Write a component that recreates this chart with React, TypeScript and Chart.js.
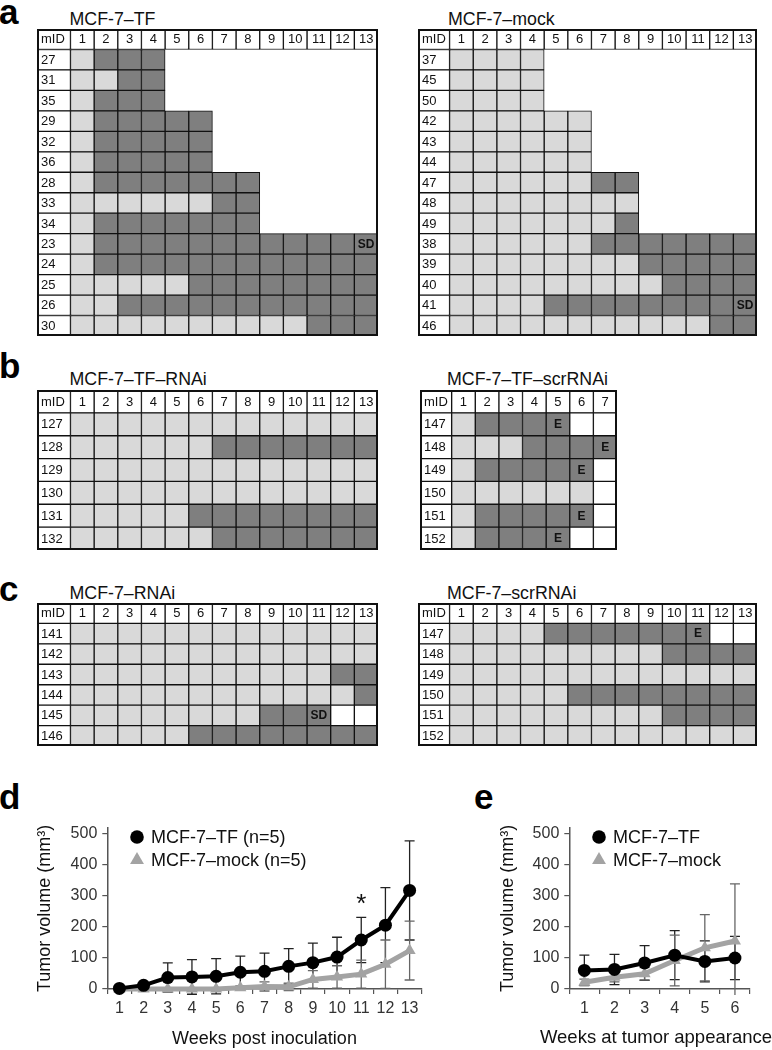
import React, { useEffect, useRef } from 'react';
import { Chart, registerables } from 'chart.js';

Chart.register(...registerables);

const FONT = "'Liberation Sans', Arial, Helvetica, sans-serif";
Chart.defaults.font.family = FONT;
Chart.defaults.color = '#111';

const LIGHT = '#d9d9d9';
const DARK = '#7f7f7f';
const LINE = '#111111';
const GRAY = '#a3a3a3';
const AXIS = '#555555';

// ---------------- data: grids ----------------
const weeks13 = ['1', '2', '3', '4', '5', '6', '7', '8', '9', '10', '11', '12', '13'];
const weeks7 = ['1', '2', '3', '4', '5', '6', '7'];

// L = light (no tumour), D = dark (tumour), W = empty cell, . = no cell
const tfIds = ['27', '31', '35', '29', '32', '36', '28', '33', '34', '23', '24', '25', '26', '30'];
const tfCells = [
  'LDDD.........',
  'LLDD.........',
  'LDDD.........',
  'LDDDDD.......',
  'LDDDDD.......',
  'LDDDDD.......',
  'LDDDDDDD.....',
  'LLLLLLDD.....',
  'LDDDDDDD.....',
  'LDDDDDDDDDDDD',
  'LDDDDDDDDDDDD',
  'LLLLLDDDDDDDD',
  'LLDDDDDDDDDDD',
  'LLLLLLLLLLDDD',
];
const tfMarks = [{ row: '23', col: 13, text: 'SD' }];

const mockIds = ['37', '45', '50', '42', '43', '44', '47', '48', '49', '38', '39', '40', '41', '46'];
const mockCells = [
  'LLLL.........',
  'LLLL.........',
  'LLLL.........',
  'LLLLLL.......',
  'LLLLLL.......',
  'LLLLLL.......',
  'LLLLLLDD.....',
  'LLLLLLLL.....',
  'LLLLLLLD.....',
  'LLLLLLDDDDDDD',
  'LLLLLLLLDDDDD',
  'LLLLLLLLLDDDD',
  'LLLLDDDDDDDDD',
  'LLLLLLLLLLLDD',
];
const mockMarks = [{ row: '41', col: 13, text: 'SD' }];

const tfRnaiIds = ['127', '128', '129', '130', '131', '132'];
const tfRnaiCells = [
  'LLLLLLLLLLLLL',
  'LLLLLLDDDDDDD',
  'LLLLLLLLLLLLL',
  'LLLLLLLLLLLLL',
  'LLLLLDDDDDDDD',
  'LLLLLLDDDDDDD',
];
const tfRnaiMarks: any[] = [];

const tfScrIds = ['147', '148', '149', '150', '151', '152'];
const tfScrCells = ['LDDDDWW', 'LLLDDDD', 'LDDDDDW', 'LLLLLLW', 'LDDDDDW', 'LDDDDWW'];
const tfScrMarks = [
  { row: '147', col: 5, text: 'E' },
  { row: '148', col: 7, text: 'E' },
  { row: '149', col: 6, text: 'E' },
  { row: '151', col: 6, text: 'E' },
  { row: '152', col: 5, text: 'E' },
];

const rnaiIds = ['141', '142', '143', '144', '145', '146'];
const rnaiCells = [
  'LLLLLLLLLLLLL',
  'LLLLLLLLLLLLL',
  'LLLLLLLLLLLDD',
  'LLLLLLLLLLLLD',
  'LLLLLLLLDDDWW',
  'LLLLLDDDDDDDD',
];
const rnaiMarks = [{ row: '145', col: 11, text: 'SD' }];

const scrIds = ['147', '148', '149', '150', '151', '152'];
const scrCells = [
  'LLLLDDDDDDDWW',
  'LLLLLLLLLDDDD',
  'LLLLLLLLLLLLL',
  'LLLLLDDDDDDDD',
  'LLLLLLLLLDDDD',
  'LLLLLLLLLLLLL',
];
const scrMarks = [{ row: '147', col: 11, text: 'E' }];

// ---------------- data: line charts ----------------
const weeksD = ['1', '2', '3', '4', '5', '6', '7', '8', '9', '10', '11', '12', '13'];
const tfVolD = [2, 12, 37, 39, 41, 54, 57, 73, 85, 103, 158, 206, 318];
const tfErrD = [0, 5, 47, 56, 57, 52, 59, 57, 63, 64, 73, 121, 160];
const mockVolD = [0, 0, 0, 0, 0, 4, 8, 7, 31, 39, 48, 80, 124];
const mockErrD = [0, 0, 2, 2, 2, 6, 15, 12, 28, 36, 45, 78, 95];
const legendD = ['MCF-7–TF (n=5)', 'MCF-7–mock (n=5)'];
const starsD = [{ week: '11', value: 270, text: '*' }];

const weeksE = ['1', '2', '3', '4', '5', '6'];
const tfVolE = [60, 63, 84, 109, 89, 100];
const tfErrE = [49, 49, 56, 79, 66, 70];
const mockVolE = [22, 38, 49, 92, 133, 155];
const mockErrE = [10, 15, 20, 82, 107, 184];
const legendE = ['MCF-7–TF', 'MCF-7–mock'];

const yTickValues = [0, 100, 200, 300, 400, 500];

// ---------------- plugins ----------------
const gridTextPlugin = {
  id: 'gridText',
  afterDatasetsDraw(chart: any, _a: any, opts: any) {
    const { ctx, chartArea, scales } = chart;
    const x = scales.x;
    const y = scales.y;
    const labels = chart.data.labels as string[];
    ctx.save();
    ctx.fillStyle = '#111';
    ctx.textBaseline = 'middle';
    ctx.font = `13px ${FONT}`;
    ctx.textAlign = 'left';
    labels.forEach((lab, i) => ctx.fillText(lab, chartArea.left + 4, y.getPixelForValue(i) + 0.5));
    ctx.textAlign = 'center';
    (opts.cols as string[]).forEach((c, j) => ctx.fillText(c, x.getPixelForValue(j + 0.5), y.getPixelForValue(0) + 0.5));
    ctx.font = `bold 12px ${FONT}`;
    (opts.marks as any[]).forEach((m) => {
      const i = labels.indexOf(m.row);
      ctx.fillText(m.text, x.getPixelForValue(m.col - 0.5), y.getPixelForValue(i) + 0.5);
    });
    ctx.strokeStyle = LINE;
    ctx.lineWidth = 2;
    ctx.strokeRect(chartArea.left + 1, chartArea.top + 1, chartArea.width - 2, chartArea.height - 2);
    ctx.restore();
  },
};

const errorBarPlugin = {
  id: 'errorBars',
  beforeDatasetsDraw(chart: any) {
    const { ctx, chartArea, scales } = chart;
    const y = scales.y;
    ctx.save();
    ctx.beginPath();
    ctx.rect(chartArea.left, chartArea.top - 20, chartArea.width, chartArea.height + 26);
    ctx.clip();
    chart.data.datasets.forEach((ds: any, di: number) => {
      const meta = chart.getDatasetMeta(di);
      (ds.errors as number[]).forEach((e, i) => {
        if (!e) return;
        const px = meta.data[i].x;
        const v = ds.data[i];
        const yt = y.getPixelForValue(v + e);
        const yb = y.getPixelForValue(v - e);
        ctx.strokeStyle = ds.errColor;
        ctx.lineWidth = 1.3;
        ctx.beginPath();
        ctx.moveTo(px, yt);
        ctx.lineTo(px, yb);
        ctx.moveTo(px - 5, yt);
        ctx.lineTo(px + 5, yt);
        ctx.moveTo(px - 5, yb);
        ctx.lineTo(px + 5, yb);
        ctx.stroke();
      });
    });
    ctx.restore();
  },
};

const inlineLegendPlugin = {
  id: 'inlineLegend',
  afterDraw(chart: any, _a: any, opts: any) {
    const { ctx, chartArea } = chart;
    chart.data.datasets.forEach((ds: any, i: number) => {
      const cx = chartArea.left + opts.x;
      const cy = chartArea.top + opts.y0 + i * opts.dy;
      ctx.save();
      ctx.fillStyle = ds.backgroundColor;
      ctx.beginPath();
      if (ds.pointStyle === 'triangle') {
        const r = 8;
        ctx.moveTo(cx, cy - r);
        ctx.lineTo(cx + r * 0.866, cy + r * 0.5);
        ctx.lineTo(cx - r * 0.866, cy + r * 0.5);
        ctx.closePath();
      } else {
        ctx.arc(cx, cy, 6.8, 0, Math.PI * 2);
      }
      ctx.fill();
      ctx.fillStyle = '#111';
      ctx.font = `18px ${FONT}`;
      ctx.textAlign = 'left';
      ctx.textBaseline = 'middle';
      ctx.fillText(ds.label, cx + opts.gap, cy + 1);
      ctx.restore();
    });
  },
};

const notesPlugin = {
  id: 'notes',
  afterDatasetsDraw(chart: any, _a: any, opts: any) {
    const { ctx, scales } = chart;
    const items = opts.items || [];
    items.forEach((n: any) => {
      ctx.save();
      ctx.font = `${opts.size}px ${FONT}`;
      ctx.fillStyle = '#111';
      ctx.textAlign = 'center';
      ctx.textBaseline = 'middle';
      const idx = (chart.data.labels as string[]).indexOf(n.week);
      ctx.fillText(n.text, scales.x.getPixelForValue(idx), scales.y.getPixelForValue(n.value));
      ctx.restore();
    });
  },
};

// x-axis caption that may run wider than the axis (no squeezing)
const xCaptionPlugin = {
  id: 'xCaption',
  afterDraw(chart: any, _a: any, opts: any) {
    if (!opts.text) return;
    const { ctx } = chart;
    ctx.save();
    ctx.font = `${opts.size}px ${FONT}`;
    ctx.fillStyle = '#111';
    ctx.textAlign = 'right';
    ctx.textBaseline = 'middle';
    ctx.fillText(opts.text, chart.width + opts.dx, chart.height - opts.dy);
    ctx.restore();
  },
};

// ---------------- layout ----------------
const grids = [
  { left: 37, top: 29, width: 341, height: 307, mid: 1.415, cols: weeks13, ids: tfIds, cells: tfCells, marks: tfMarks },
  { left: 418, top: 29, width: 339, height: 307, mid: 1.335, cols: weeks13, ids: mockIds, cells: mockCells, marks: mockMarks },
  { left: 37, top: 390, width: 341, height: 160, mid: 1.415, cols: weeks13, ids: tfRnaiIds, cells: tfRnaiCells, marks: tfRnaiMarks },
  { left: 420, top: 390, width: 197, height: 160, mid: 1.34, cols: weeks7, ids: tfScrIds, cells: tfScrCells, marks: tfScrMarks },
  { left: 37, top: 603, width: 341, height: 143, mid: 1.415, cols: weeks13, ids: rnaiIds, cells: rnaiCells, marks: rnaiMarks },
  { left: 418, top: 603, width: 339, height: 143, mid: 1.335, cols: weeks13, ids: scrIds, cells: scrCells, marks: scrMarks },
];

const titles = [
  { text: 'MCF-7–TF', left: 69.5, top: 11 },
  { text: 'MCF-7–mock', left: 448, top: 11 },
  { text: 'MCF-7–TF–RNAi', left: 69.5, top: 371 },
  { text: 'MCF-7–TF–scrRNAi', left: 447, top: 371 },
  { text: 'MCF-7–RNAi', left: 69.5, top: 585 },
  { text: 'MCF-7–scrRNAi', left: 447, top: 585 },
];

const letters = [
  { text: 'a', left: -1, top: -6 },
  { text: 'b', left: -1, top: 348 },
  { text: 'c', left: -1, top: 571 },
  { text: 'd', left: -1, top: 779 },
  { text: 'e', left: 474, top: 779 },
];

function GridPanel({ g }: { g: any }) {
  const ref = useRef<HTMLCanvasElement>(null);
  useEffect(() => {
    const labels = ['mID', ...g.ids];
    const fill = (ch: string) => (ch === 'L' ? LIGHT : ch === 'D' ? DARK : '#ffffff');
    const base = {
      borderColor: LINE,
      borderWidth: 1,
      borderSkipped: false,
      barPercentage: 1,
      categoryPercentage: 1,
      grouped: false,
    };
    const datasets: any[] = [{ ...base, data: labels.map(() => [-g.mid, 0]), backgroundColor: '#ffffff' }];
    g.cols.forEach((_c: string, j: number) => {
      datasets.push({
        ...base,
        data: labels.map((_l: string, i: number) => (i > 0 && g.cells[i - 1][j] === '.' ? null : [j, j + 1])),
        backgroundColor: labels.map((_l: string, i: number) => (i === 0 ? '#ffffff' : fill(g.cells[i - 1][j]))),
      });
    });
    const chart = new Chart(ref.current as HTMLCanvasElement, {
      type: 'bar',
      data: { labels, datasets },
      options: {
        indexAxis: 'y',
        responsive: false,
        animation: false,
        events: [],
        layout: { padding: 0 },
        scales: {
          x: { type: 'linear', min: -g.mid, max: g.cols.length, display: false },
          y: { type: 'category', display: false },
        },
        plugins: {
          legend: { display: false },
          tooltip: { enabled: false },
          gridText: { cols: g.cols, marks: g.marks },
        },
      } as any,
      plugins: [gridTextPlugin],
    });
    return () => chart.destroy();
  }, []);
  return (
    <canvas
      ref={ref}
      width={g.width}
      height={g.height}
      style={{ position: 'absolute', left: g.left, top: g.top, width: g.width, height: g.height }}
    />
  );
}

function makeLineConfig(p: any) {
  return {
    type: 'line',
    data: {
      labels: p.labels,
      datasets: [
        {
          label: p.legend[0],
          data: p.tf,
          errors: p.tfErr,
          errColor: '#222',
          borderColor: '#000',
          backgroundColor: '#000',
          borderWidth: 4,
          pointRadius: 6.5,
          pointBorderWidth: 0,
          pointStyle: 'circle',
          clip: false,
        },
        {
          label: p.legend[1],
          data: p.mock,
          errors: p.mockErr,
          errColor: '#666',
          borderColor: GRAY,
          backgroundColor: GRAY,
          borderWidth: 5,
          pointRadius: 7,
          pointBorderWidth: 0,
          pointStyle: 'triangle',
          clip: false,
        },
      ],
    },
    options: {
      responsive: false,
      animation: false,
      events: [],
      layout: { padding: { left: 0, right: p.padRight, top: 17.8, bottom: 0 } },
      scales: {
        x: {
          type: 'category',
          offset: true,
          grid: { offset: true, drawOnChartArea: false, drawTicks: true, tickLength: 5, color: AXIS, lineWidth: 1.2 },
          border: { color: AXIS, width: 1.5 },
          ticks: { color: '#333', font: { size: 16 }, padding: 5, maxRotation: 0, autoSkip: false },
          title: { display: !p.xCaption, text: p.xTitle, font: { size: 18 }, color: '#111', padding: 0 },
          afterFit: (s: any) => {
            s.height = 61;
          },
        },
        y: {
          min: 0,
          max: 520,
          afterBuildTicks: (s: any) => {
            s.ticks = yTickValues.map((v) => ({ value: v }));
          },
          grid: { drawOnChartArea: false, drawTicks: true, tickLength: 5, color: AXIS, lineWidth: 1.2 },
          border: { color: AXIS, width: 1.5 },
          ticks: { color: '#333', font: { size: 16 }, padding: 5 },
          title: {
            display: true,
            text: 'Tumor volume (mm³)',
            font: { size: 18 },
            color: '#111',
            padding: { top: p.yTitlePad, bottom: 0 },
          },
          afterFit: (s: any) => {
            s.width = p.yWidth;
          },
        },
      },
      plugins: {
        legend: { display: false },
        tooltip: { enabled: false },
        inlineLegend: { x: 29.7, y0: 9.2, dy: 23, gap: 14 },
        notes: { items: p.notes, size: 26 },
        xCaption: { text: p.xCaption ? p.xTitle : '', size: 18.5, dx: 0, dy: 12 },
      },
    },
    plugins: [errorBarPlugin, inlineLegendPlugin, notesPlugin, xCaptionPlugin],
  };
}

function LinePanel({ p }: { p: any }) {
  const ref = useRef<HTMLCanvasElement>(null);
  useEffect(() => {
    const chart = new Chart(ref.current as HTMLCanvasElement, makeLineConfig(p) as any);
    return () => chart.destroy();
  }, []);
  return (
    <canvas
      ref={ref}
      width={p.width}
      height={p.height}
      style={{ position: 'absolute', left: p.left, top: p.top, width: p.width, height: p.height }}
    />
  );
}

const lineD = {
  left: 0,
  top: 810,
  width: 440,
  height: 240,
  labels: weeksD,
  tf: tfVolD,
  tfErr: tfErrD,
  mock: mockVolD,
  mockErr: mockErrD,
  legend: legendD,
  notes: starsD,
  xTitle: 'Weeks post inoculation',
  xCaption: false,
  padRight: 18.3,
  yWidth: 107.3,
  yTitlePad: 34.2,
};

const lineE = {
  left: 480,
  top: 810,
  width: 292,
  height: 240,
  labels: weeksE,
  tf: tfVolE,
  tfErr: tfErrE,
  mock: mockVolE,
  mockErr: mockErrE,
  legend: legendE,
  notes: [],
  xTitle: 'Weeks at tumor appearance',
  xCaption: true,
  padRight: 22,
  yWidth: 89.3,
  yTitlePad: 17.2,
};

export default function App() {
  return (
    <div
      style={{
        position: 'absolute',
        left: 0,
        top: 0,
        width: 772,
        height: 1050,
        overflow: 'hidden',
        background: '#fff',
        fontFamily: FONT,
      }}
    >
      {letters.map((l) => (
        <div
          key={l.text}
          style={{ position: 'absolute', left: l.left, top: l.top, fontSize: 35, fontWeight: 'bold', lineHeight: '35px', color: '#000' }}
        >
          {l.text}
        </div>
      ))}
      {titles.map((t) => (
        <div
          key={t.text}
          style={{ position: 'absolute', left: t.left, top: t.top, fontSize: 17.8, lineHeight: '17.8px', color: '#111', whiteSpace: 'nowrap' }}
        >
          {t.text}
        </div>
      ))}
      {grids.map((g, i) => (
        <GridPanel key={i} g={g} />
      ))}
      <LinePanel p={lineD} />
      <LinePanel p={lineE} />
    </div>
  );
}
